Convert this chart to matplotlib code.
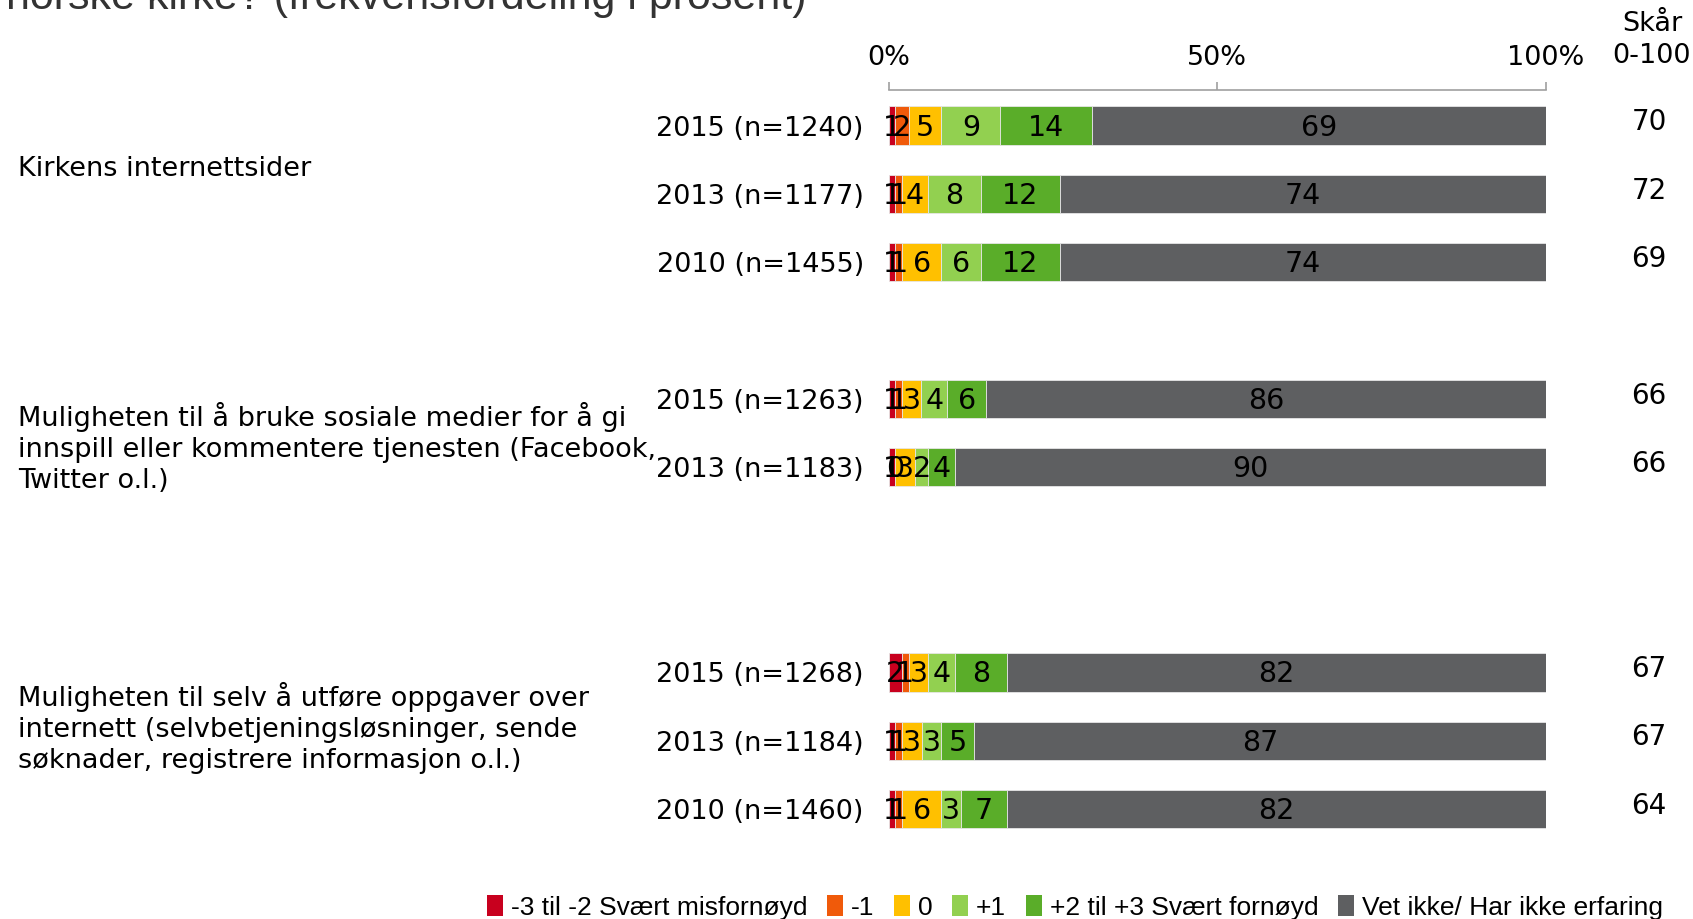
import numpy as np
import matplotlib
matplotlib.use('Agg')
import matplotlib.pyplot as plt
from matplotlib.patches import Patch
from matplotlib.transforms import blended_transform_factory

# Data
questions = ['Kirkens internettsider',
             'Muligheten til å bruke sosiale medier for å gi\ninnspill eller kommentere tjenesten (Facebook,\nTwitter o.l.)',
             'Muligheten til selv å utføre oppgaver over\ninternett (selvbetjeningsløsninger, sende\nsøknader, registrere informasjon o.l.)']
row_labels = ['2015 (n=1240)', '2013 (n=1177)', '2010 (n=1455)',
              '2015 (n=1263)', '2013 (n=1183)',
              '2015 (n=1268)', '2013 (n=1184)', '2010 (n=1460)']
row_pos = [0, 1, 2, 4, 5, 8, 9, 10]
categories = ['-3 til -2 Svært misfornøyd', '-1', '0', '+1',
              '+2 til +3 Svært fornøyd', 'Vet ikke/ Har ikke erfaring']
values = np.array([
    [1, 2, 5, 9, 14, 69],
    [1, 1, 4, 8, 12, 74],
    [1, 1, 6, 6, 12, 74],
    [1, 1, 3, 4, 6, 86],
    [1, 0, 3, 2, 4, 90],
    [2, 1, 3, 4, 8, 82],
    [1, 1, 3, 3, 5, 87],
    [1, 1, 6, 3, 7, 82],
])
scores = [70, 72, 69, 66, 66, 67, 67, 64]
colors = ['#C8001E', '#F05A0A', '#FFC000', '#92D050', '#5AAD29', '#5E5F61']

plt.rcParams['font.family'] = ['DejaVu Sans']
fs = 19.5

fig = plt.figure(figsize=(16.93, 9.19), dpi=100)
ax = fig.add_axes([0.525, 0.075, 0.388, 0.827])

# normalise each row to 100 so all bars end at 100%
widths = values / values.sum(axis=1, keepdims=True) * 100
left = np.zeros(len(values))
for j in range(len(categories)):
    bars = ax.barh(row_pos, widths[:, j], left=left, height=0.56,
                   color=colors[j], edgecolor='#E6E6E6', linewidth=0.6)
    for i, b in enumerate(bars):
        ax.text(left[i] + widths[i, j] / 2, row_pos[i] + 0.03, str(values[i, j]),
                ha='center', va='center', fontsize=20.5, color='black')
    left += widths[:, j]

ax.set_xlim(0, 100)
ax.set_ylim(10.6, -0.52)
ax.set_yticks(row_pos)
ax.set_yticklabels(row_labels, fontsize=fs)
ax.tick_params(axis='y', length=0, pad=18)
ax.xaxis.tick_top()
ax.set_xticks([0, 50, 100])
ax.set_xticklabels(['0%', '50%', '100%'], fontsize=fs)
ax.tick_params(axis='x', length=6, color='#A0A0A0', width=1.2, pad=8)
for s in ['left', 'right', 'bottom']:
    ax.spines[s].set_visible(False)
ax.spines['top'].set_color('#A0A0A0')
ax.spines['top'].set_linewidth(1.2)

trans = blended_transform_factory(fig.transFigure, ax.transData)

# question labels on the left
q_y = [0.63, 4.72, 8.81]
for q, y in zip(questions, q_y):
    ax.text(18 / 1693, y, q, transform=trans,
            ha='left', va='center', fontsize=fs, linespacing=1.25)

# score column
for y, s in zip(row_pos, scores):
    ax.text(1649 / 1693, y - 0.05, str(s), transform=trans,
            ha='center', va='center', fontsize=20)
fig.text(1652 / 1693, 1 - 40 / 919, 'Skår\n0-100', ha='center', va='center',
         fontsize=fs, linespacing=1.3)

# title (cut off at the top edge as in the original)
fig.text(6 / 1693, 1 - 9 / 919, 'norske kirke? (frekvensfordeling i prosent)',
         ha='left', va='baseline', fontsize=31,
         family=['Liberation Sans', 'DejaVu Sans'], color='#333333')

handles = [Patch(facecolor=c) for c in colors]
fig.legend(handles, categories, loc='center', bbox_to_anchor=(0.635, 0.013),
           ncol=6, frameon=False, handlelength=0.6, handleheight=0.9,
           handletextpad=0.3, columnspacing=0.75,
           prop={'family': ['Liberation Sans', 'DejaVu Sans'], 'size': 19})

fig.savefig('out.png', dpi=100)
